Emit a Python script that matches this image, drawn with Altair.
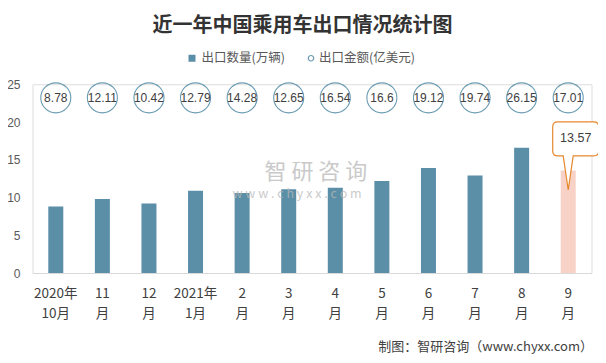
import altair as alt
import pandas as pd

# ---- data ----
months = ["2020年|10月", "11|月", "12|月", "2021年|1月", "2|月", "3|月", "4|月",
          "5|月", "6|月", "7|月", "8|月", "9|月"]
qty = [8.8, 9.8, 9.2, 10.9, 10.6, 11.1, 11.3, 12.2, 13.9, 12.9, 16.6, 13.57]
amount = [8.78, 12.11, 10.42, 12.79, 14.28, 12.65, 16.54, 16.6, 19.12, 19.74, 26.15, 17.01]
y_ticks = [0, 5, 10, 15, 20, 25]

title_text = "近一年中国乘用车出口情况统计图"
legend_qty = "出口数量(万辆)"
legend_amt = "出口金额(亿美元)"
footer_text = "制图：智研咨询（www.chyxx.com）"

df = pd.DataFrame({"month": months, "qty": qty, "amount": amount})
last = months[-1]

BAR = "#5b8fa7"
PINK = "#f8d2c7"
CIRCLE = "#6a9bb2"
ORANGE = "#e6892e"
TXT = "#404040"
GREY = "#595959"
FONT = "Noto Sans CJK SC"
NUMFONT = "Liberation Sans Narrow, Liberation Sans, Arial"

W, H = 559, 188.75

yscale = alt.Scale(domain=[0, 25], nice=False)
xscale = alt.Scale(paddingInner=0, paddingOuter=0)
xaxis = alt.Axis(labelExpr="split(datum.label, '|')", labelAngle=0, ticks=False,
                 domainColor="#d9d9d9", labelPadding=13, labelFontSize=13.5,
                 labelLineHeight=20, labelColor=TXT, labelFont=FONT, title=None)
yaxis = alt.Axis(values=y_ticks, domain=False, ticks=False, grid=False,
                 labelOverlap=False, labelPadding=12.5, labelFontSize=12,
                 labelColor=GREY, labelFont=NUMFONT, title=None)

xenc = alt.X("month:N", sort=months, title=None, scale=xscale, axis=xaxis)
yenc = alt.Y("qty:Q", title=None, scale=yscale, axis=yaxis)
ycirc = alt.Y(datum=23.2, title=None, scale=yscale, axis=yaxis)
ytip = alt.Y(datum=11.0, title=None, scale=yscale, axis=yaxis)

base = alt.Chart(df)

bars = base.mark_bar(size=15).encode(
    x=xenc, y=yenc,
    color=alt.condition(alt.datum.month == last, alt.value(PINK), alt.value(BAR)),
)

circles = base.mark_point(shape="circle", filled=False, size=900, stroke=CIRCLE,
                          strokeWidth=1.1, opacity=1).encode(x=xenc, y=ycirc)

circle_txt = base.mark_text(fontSize=12, font=NUMFONT, color=TXT, baseline="middle").encode(
    x=xenc, y=ycirc, text=alt.Text("amount:Q"))

# callout shape (pixel path around anchor at the pointer tip)
l, r, t, b, c = -15.5, 30.5, -68, -34, 5
callout_path = (
    f"M {l+c} {t} L {r-c} {t} Q {r} {t} {r} {t+c} L {r} {b-c} Q {r} {b} {r-c} {b} "
    f"L 5 {b} L 0 0 L -5 {b} L {l+c} {b} Q {l} {b} {l} {b-c} L {l} {t+c} Q {l} {t} {l+c} {t} Z"
)
last_df = base.transform_filter(alt.datum.month == last)
callout = last_df.mark_point(shape=callout_path, size=4, filled=True, fill="white",
                             stroke=ORANGE, strokeWidth=1.2, opacity=1).encode(x=xenc, y=ytip)
callout_txt = last_df.mark_text(fontSize=12.5, font=NUMFONT, color=TXT, dx=7.5, dy=-51.5).encode(
    x=xenc, y=ytip, text=alt.Text("qty:Q"))


def deco(text, x, y, **kw):
    return alt.Chart(pd.DataFrame({"t": [text]})).mark_text(**kw).encode(
        x=alt.value(x), y=alt.value(y), text="t:N")


title = deco(title_text, 270, -58.5, fontSize=20, fontWeight="bold", font=FONT,
             color="#333333", align="center", baseline="middle")
leg1_sym = alt.Chart(pd.DataFrame({"t": [legend_qty]})).mark_square(
    size=49, color=BAR, opacity=1).encode(x=alt.value(159.5), y=alt.value(-26))
leg1_txt = deco(legend_qty, 169, -26, fontSize=12.5, font=FONT, color=GREY,
                align="left", baseline="middle")
leg2_sym = alt.Chart(pd.DataFrame({"t": [legend_amt]})).mark_point(
    shape="circle", size=30, filled=False, stroke=CIRCLE, strokeWidth=1.2, opacity=1).encode(
    x=alt.value(278.5), y=alt.value(-26))
leg2_txt = deco(legend_amt, 286.5, -26, fontSize=12.5, font=FONT, color=GREY,
                align="left", baseline="middle")
footer = deco(footer_text, 560.5, 262.5, fontSize=13, font=FONT, color=TXT,
              align="right", baseline="middle")
wm1 = deco("智 研 咨 询", 232, 88, fontSize=22, font=FONT, color="#b8b8b8", opacity=0.75,
           align="left", baseline="middle")
wm2 = deco("w w w . c h y x x . c o m", 200, 110, fontSize=12.5, font=FONT, color="#b8b8b8",
           opacity=0.75, align="left", baseline="middle")

chart = alt.layer(
    bars, wm1, wm2, circles, circle_txt, callout, callout_txt,
    title, leg1_sym, leg1_txt, leg2_sym, leg2_txt, footer,
).properties(
    width=W, height=H, autosize="none",
    padding={"left": 24.5, "top": 76.25, "right": 6.5, "bottom": 82},
).configure_view(strokeWidth=0, stroke="transparent").configure(background="white")

chart.save("out.html", embed_options={"renderer": "svg", "actions": False})
